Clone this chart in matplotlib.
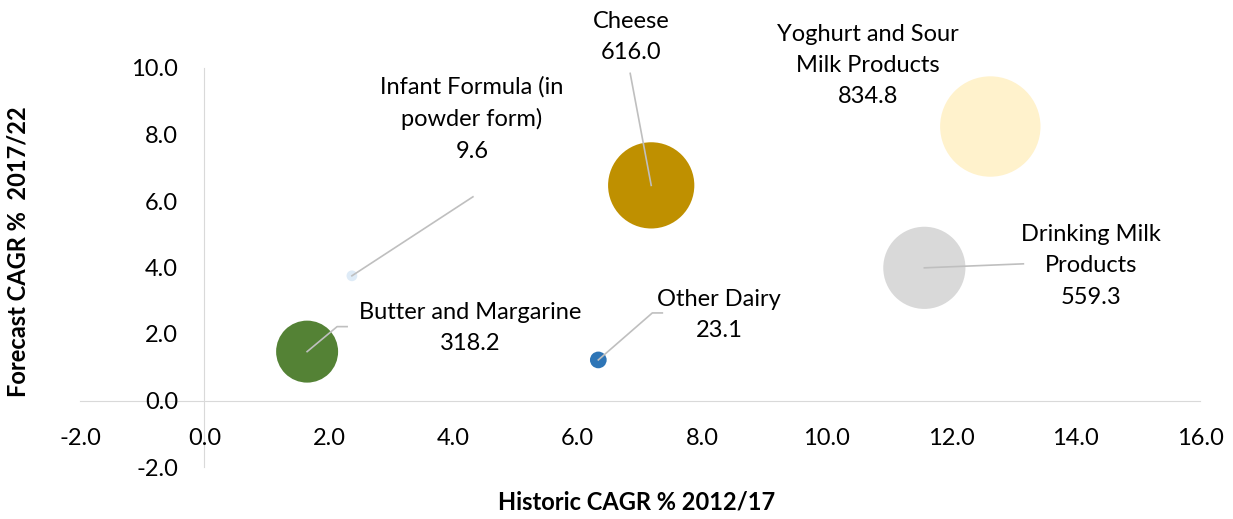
import matplotlib
matplotlib.use('Agg')
import matplotlib.pyplot as plt
import numpy as np

plt.rcParams['font.family'] = ['Lato', 'DejaVu Sans']
plt.rcParams['font.size'] = 17

# 数据：历史 CAGR、预测 CAGR、市场规模
categories = ['Infant Formula (in\npowder form)', 'Cheese', 'Yoghurt and Sour\nMilk Products',
              'Drinking Milk\nProducts', 'Butter and Margarine', 'Other Dairy']
historic_cagr = [2.37, 7.18, 12.63, 11.57, 1.65, 6.33]
forecast_cagr = [3.75, 6.47, 8.24, 3.99, 1.47, 1.22]
market_size = [9.6, 616.0, 834.8, 559.3, 318.2, 23.1]
colors = ['#DEEBF7', '#BF9000', '#FFF2CC', '#D9D9D9', '#548235', '#2E75B6']

x_ticks = np.arange(-2, 17, 2)
y_ticks = np.arange(-2, 11, 2)

# 标签偏移（像素，向上为正），以及引线折点
label_offsets = [(120, 157), (-20, 148), (-122, 61), (167, 2), (163, 24), (121, 45)]
leader_pts = [[(121, 79)], [(-21, 112)], [], [(99, 4)], [(30, 25), (40, 25)], [(54, 47), (64, 47)]]

W, H, DPI = 1233, 519, 100
fig = plt.figure(figsize=(W / DPI, H / DPI), dpi=DPI)
ax = fig.add_axes([80 / W, (H - 467) / H, 1120 / W, 399 / H])

ax.set_xlim(-2, 16)
ax.set_ylim(-2, 10)

# 气泡面积与数值成正比
sizes = [6.26 * v for v in market_size]
ax.scatter(historic_cagr, forecast_cagr, s=sizes, c=colors, linewidths=0, zorder=3)

px2pt = 72 / DPI
inv = ax.transData.inverted()
for i, lab in enumerate(categories):
    x, y = historic_cagr[i], forecast_cagr[i]
    dx, dy = label_offsets[i]
    ax.annotate(f'{lab}\n{market_size[i]:.1f}', (x, y),
                xytext=(dx * px2pt, dy * px2pt), textcoords='offset points',
                ha='center', va='center', fontsize=17, linespacing=1.6, color='#000000',
                zorder=5)
    # 引线
    pts = [(0, 0)] + leader_pts[i]
    if len(pts) > 1:
        base = ax.transData.transform((x, y))
        pix = np.array([[base[0] + a, base[1] + b] for a, b in pts])
        dpts = inv.transform(pix)
        ax.plot(dpts[:, 0], dpts[:, 1], color='#BFBFBF', lw=1.2, zorder=4)

# 坐标轴穿过原点
for side in ['top', 'right']:
    ax.spines[side].set_visible(False)
for side in ['left', 'bottom']:
    ax.spines[side].set_position(('data', 0))
    ax.spines[side].set_color('#D9D9D9')
    ax.spines[side].set_zorder(1)

ax.set_xticks(x_ticks)
ax.set_yticks(y_ticks)
ax.set_xticklabels([f'{t:.1f}' for t in x_ticks])
ax.set_yticklabels([f'{t:.1f}' for t in y_ticks])
ax.tick_params(axis='x', length=0, pad=20)
ax.tick_params(axis='y', length=0, pad=19)

ax.set_xlabel('Historic CAGR % 2012/17', fontsize=17, fontweight='bold')
ax.set_ylabel('Forecast CAGR %  2017/22', fontsize=17, fontweight='bold')
ax.xaxis.set_label_coords((637 - 80) / 1120, (467 - 502) / 399)
ax.xaxis.label.set_va('center')
ax.yaxis.set_label_coords((18 - 80) / 1120, (467 - 252) / 399)
ax.yaxis.label.set_va('center')

fig.savefig('out.png', dpi=DPI)
